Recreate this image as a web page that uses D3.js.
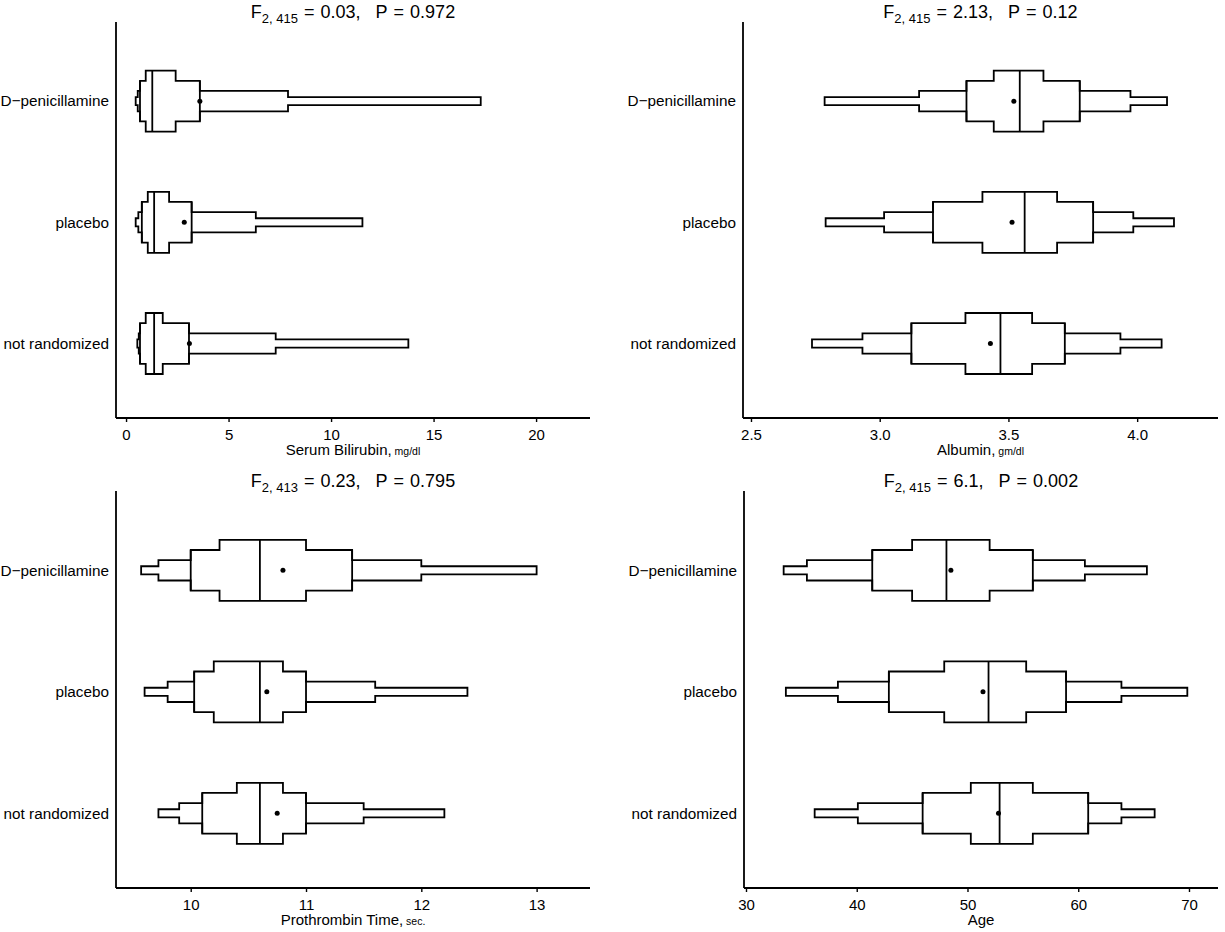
<!DOCTYPE html>
<html>
<head>
<meta charset="utf-8">
<script src="https://cdn.jsdelivr.net/npm/d3@7"></script>
<style>
  body { margin: 0; background: #fff; }
  svg text { font-family: "Liberation Sans", Arial, sans-serif; fill: #000; white-space: pre; }
</style>
</head>
<body>
<svg id="chart" width="1225" height="932"></svg>
<script>
// groups, top to bottom
const groups = ["D\u2212penicillamine", "placebo", "not randomized"];
// quantiles drawn: 0.05, 0.125, 0.25, 0.375, 0.5, 0.625, 0.75, 0.875, 0.95
const probs = [0.05, 0.125, 0.25, 0.375];

// serum bilirubin quantiles per group + means
const biliQ = [
  [0.47, 0.57, 0.68, 0.96, 1.28, 2.42, 3.6, 7.9, 17.3],
  [0.47, 0.6, 0.77, 1.06, 1.37, 2.1, 3.2, 6.33, 11.53],
  [0.55, 0.62, 0.68, 0.96, 1.37, 1.79, 3.07, 7.3, 13.77]
];
const biliMean = [3.6, 2.84, 3.09];

const albQ = [
  [2.786, 3.153, 3.337, 3.443, 3.544, 3.636, 3.777, 3.974, 4.116],
  [2.79, 3.017, 3.207, 3.399, 3.563, 3.689, 3.829, 3.985, 4.143],
  [2.737, 2.933, 3.123, 3.333, 3.469, 3.592, 3.719, 3.935, 4.095]
];
const albMean = [3.521, 3.514, 3.43];

const protQ = [
  [9.57, 9.72, 10.0, 10.25, 10.6, 11.0, 11.4, 12.0, 13.0],
  [9.6, 9.8, 10.03, 10.2, 10.6, 10.8, 11.0, 11.6, 12.4],
  [9.72, 9.9, 10.1, 10.4, 10.6, 10.8, 11.0, 11.5, 12.2]
];
const protMean = [10.8, 10.66, 10.75];

const ageQ = [
  [33.4, 35.5, 41.4, 45.0, 48.1, 52.0, 55.9, 60.6, 66.2],
  [33.6, 38.3, 42.9, 47.9, 51.9, 55.3, 58.9, 63.9, 69.85],
  [36.2, 40.1, 45.95, 50.3, 52.9, 55.9, 60.9, 63.9, 66.9]
];
const ageMean = [48.5, 51.4, 52.8];

const panels = [
  { q: biliQ, mean: biliMean, label: "Serum Bilirubin,", unit: "mg/dl",
    df: "2, 415", stat: "0.03", p: "0.972",
    domain: [-0.49, 22.63], ticks: [0, 5, 10, 15, 20], fmt: d3.format("d"),
    x0: 116, x1: 590, y0: 22, y1: 418 },
  { q: albQ, mean: albMean, label: "Albumin,", unit: "gm/dl",
    df: "2, 415", stat: "2.13", p: "0.12",
    domain: [2.469, 4.314], ticks: [2.5, 3.0, 3.5, 4.0], fmt: d3.format(".1f"),
    x0: 743, x1: 1218, y0: 22, y1: 418 },
  { q: protQ, mean: protMean, label: "Prothrombin Time,", unit: "sec.",
    df: "2, 413", stat: "0.23", p: "0.795",
    domain: [9.352, 13.463], ticks: [10, 11, 12, 13], fmt: d3.format("d"),
    x0: 116, x1: 590, y0: 491, y1: 888 },
  { q: ageQ, mean: ageMean, label: "Age", unit: "",
    df: "2, 415", stat: "6.1", p: "0.002",
    domain: [29.82, 72.62], ticks: [30, 40, 50, 60, 70], fmt: d3.format("d"),
    x0: 744, x1: 1218, y0: 491, y1: 888 }
];

const svg = d3.select("#chart");
const maxHalf = 30.5; // half height of the widest box
const hScale = d3.scaleLinear().domain([0, 0.375]).range([0, maxHalf]);
const lw = 1.8;

// step heights between consecutive quantiles
const levels = probs.concat(probs.slice().reverse());

panels.forEach(pn => {
  const g = svg.append("g");
  const x = d3.scaleLinear().domain(pn.domain).range([pn.x0, pn.x1]);
  const y = d3.scalePoint().domain(groups).range([pn.y0, pn.y1]).padding(0.634).align(0.515);

  // axes: left + bottom only
  g.append("line").attr("x1", pn.x0).attr("x2", pn.x0).attr("y1", pn.y0).attr("y2", pn.y1)
    .attr("stroke", "#000").attr("stroke-width", lw);
  const xAxis = g.append("g").attr("transform", "translate(0," + pn.y1 + ")")
    .call(d3.axisBottom(x).tickValues(pn.ticks).tickFormat(pn.fmt).tickSize(4).tickPadding(7));
  xAxis.select(".domain").attr("d", "M" + pn.x0 + ",0H" + pn.x1).attr("stroke-width", lw);
  xAxis.selectAll(".tick line").attr("stroke-width", 1.4);
  xAxis.selectAll(".tick text").attr("font-size", 15).attr("font-family", "Liberation Sans, Arial, sans-serif");

  // group labels
  g.selectAll(".ylab").data(groups).enter().append("text")
    .attr("x", pn.x0 - 7).attr("y", d => y(d)).attr("dy", "0.35em")
    .attr("text-anchor", "end").attr("font-size", 15.3).text(d => d);

  // x label
  const xl = g.append("text").attr("x", (pn.x0 + pn.x1) / 2).attr("y", pn.y1 + 37)
    .attr("text-anchor", "middle").attr("font-size", 15);
  xl.append("tspan").text(pn.label);
  if (pn.unit) xl.append("tspan").attr("font-size", 10.5).text(" " + pn.unit);

  // title
  const tt = g.append("text").attr("x", (pn.x0 + pn.x1) / 2).attr("y", pn.y0 - 4)
    .attr("text-anchor", "middle").attr("font-size", 18);
  tt.append("tspan").text("F");
  tt.append("tspan").attr("font-size", 13).attr("dy", 5).text(pn.df);
  tt.append("tspan").attr("dy", -5).attr("dx", 6).text("=");
  tt.append("tspan").attr("dx", 6).text(pn.stat + ",");
  tt.append("tspan").attr("dx", 15).text("P");
  tt.append("tspan").attr("dx", 6).text("=");
  tt.append("tspan").attr("dx", 6).text(pn.p);

  // extended box plots
  groups.forEach((grp, i) => {
    const q = pn.q[i];
    const cy = y(grp);
    let top = [], bot = [];
    levels.forEach((p, k) => {
      const h = hScale(p);
      top.push([x(q[k]), cy - h], [x(q[k + 1]), cy - h]);
      bot.push([x(q[k]), cy + h], [x(q[k + 1]), cy + h]);
    });
    const pts = top.concat(bot.reverse());
    g.append("path")
      .attr("d", d3.line()(pts) + "Z")
      .attr("fill", "none").attr("stroke", "#000").attr("stroke-width", lw)
      .attr("stroke-linejoin", "miter");
    // reference lines: median, quartiles
    [[4, 0.375], [2, 0.25], [6, 0.25]].forEach(([k, p]) => {
      g.append("line").attr("x1", x(q[k])).attr("x2", x(q[k]))
        .attr("y1", cy - hScale(p)).attr("y2", cy + hScale(p))
        .attr("stroke", "#000").attr("stroke-width", lw);
    });
    g.append("circle").attr("cx", x(pn.mean[i])).attr("cy", cy).attr("r", 2.5).attr("fill", "#000");
  });
});
</script>
</body>
</html>
